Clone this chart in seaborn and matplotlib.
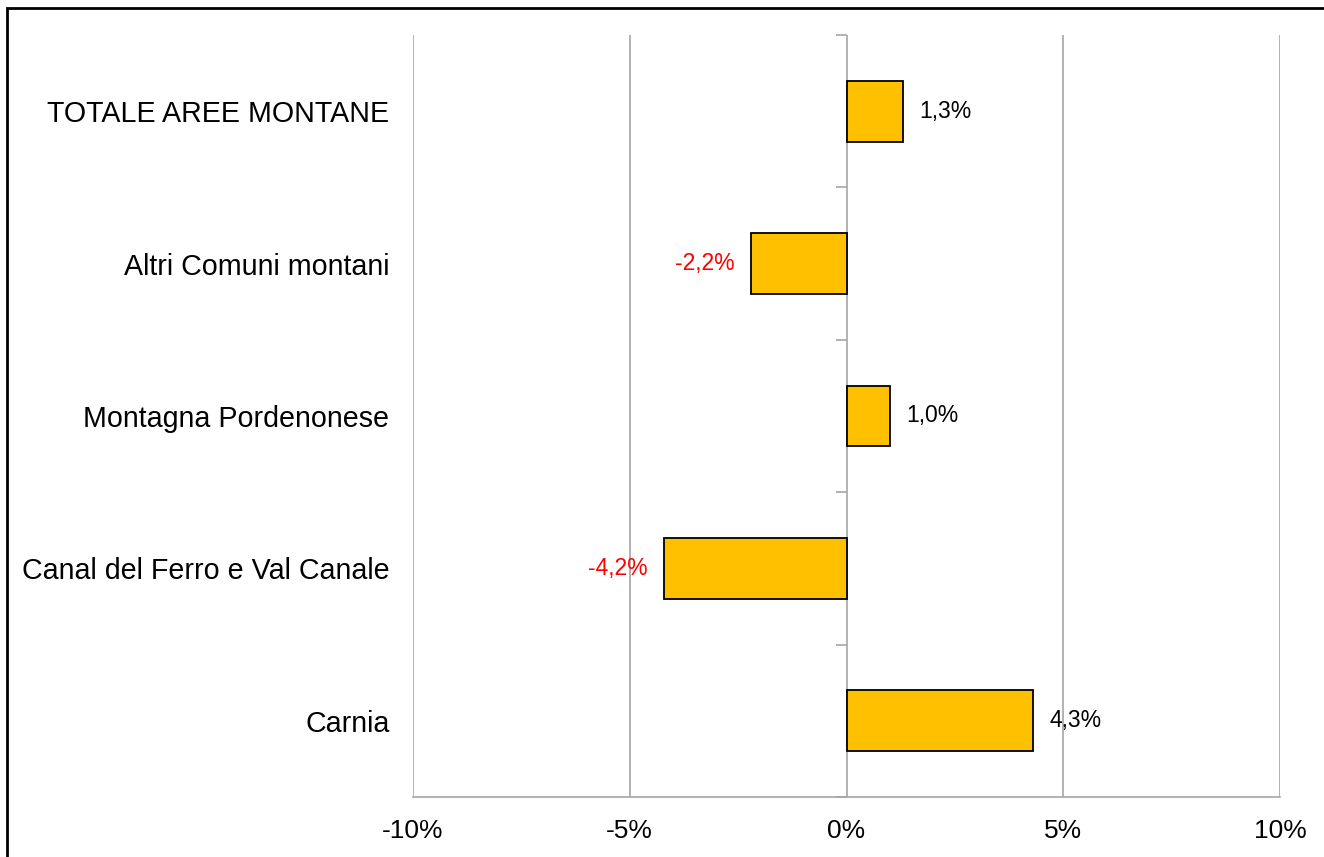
import matplotlib
matplotlib.use("Agg")
import matplotlib.pyplot as plt
import matplotlib.patches as mpatches
from matplotlib.lines import TICKLEFT
import seaborn as sns
import pandas as pd

# data, top to bottom as in the chart
categories = [
    "TOTALE AREE MONTANE",
    "Altri Comuni montani",
    "Montagna Pordenonese",
    "Canal del Ferro e Val Canale",
    "Carnia",
]
values = [1.3, -2.2, 1.0, -4.2, 4.3]
x_ticks = [-10, -5, 0, 5, 10]

df = pd.DataFrame({"area": categories, "var": values})

sns.set_style("white")
plt.rcParams["font.family"] = ["Liberation Sans", "DejaVu Sans"]

grid_col = "#a6a6a6"

fig = plt.figure(figsize=(13.24, 8.57), dpi=100)
ax = fig.add_axes([413 / 1324, 60 / 857, 867 / 1324, 762 / 857])

sns.barplot(
    data=df, x="var", y="area", order=categories, orient="h",
    color="#ffc000", edgecolor="black", linewidth=1.3, width=0.4,
    saturation=1, ax=ax, zorder=3,
)

ax.set_xlim(-10, 10)
ax.set_ylim(len(categories) - 0.5, -0.5)
ax.set_xticks(x_ticks)
ax.set_xticklabels([f"{t}%" for t in x_ticks])
ax.set_xlabel("")
ax.set_ylabel("")

# vertical gridlines
for t in x_ticks:
    ax.axvline(t, color=grid_col, lw=1.2, zorder=1)

for side in ["top", "right", "left"]:
    ax.spines[side].set_visible(False)
ax.spines["bottom"].set_color(grid_col)
ax.spines["bottom"].set_linewidth(1.2)

ax.tick_params(axis="x", colors=grid_col, length=6, width=1.2, pad=10,
               labelsize=19, labelcolor="black")
ax.tick_params(axis="y", length=0, pad=17, labelsize=20.6, labelcolor="black")

# small separator ticks on the zero line
bounds = [i - 0.5 for i in range(len(categories) + 1)]
ax.plot([0] * len(bounds), bounds, linestyle="none", marker=TICKLEFT,
        markersize=8, markeredgewidth=1.2, color=grid_col, zorder=2,
        clip_on=False)

# value labels
labels = [f"{v:.1f}%".replace(".", ",") for v in values]
texts = ax.bar_label(ax.containers[0], labels=labels, padding=12,
                     fontsize=16.5, color="black")
for txt, v in zip(texts, values):
    if v < 0:
        txt.set_color("red")

# outer frame of the picture
fig.patches.append(mpatches.Rectangle(
    (7 / 1324, -0.05), 1.1, 1 - 8 / 857 + 0.05, transform=fig.transFigure,
    fill=False, edgecolor="black", linewidth=2, zorder=10))

fig.savefig("out.png", dpi=100)
